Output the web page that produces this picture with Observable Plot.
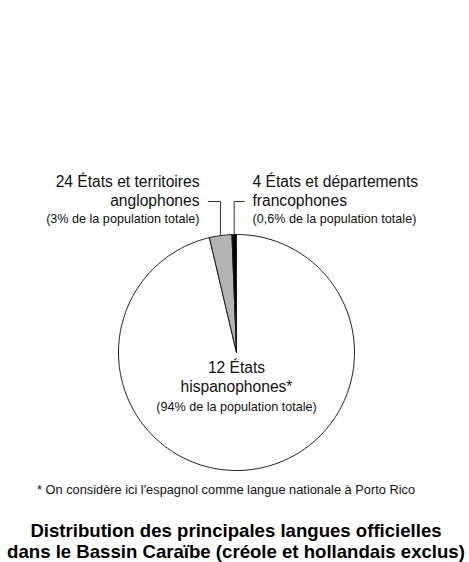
<!DOCTYPE html>
<html><head><meta charset="utf-8">
<script src="https://cdn.jsdelivr.net/npm/d3@7"></script>
<script src="https://cdn.jsdelivr.net/npm/@observablehq/plot@0.6"></script>
<style>body{margin:0;background:#fff} svg{display:block}</style>
</head><body><div id="chart"></div>
<script>
// ---- data ----
const categories = ["hispanophones", "anglophones", "francophones"];
const shares = [94, 3, 0.6];
const labelTitles = ["12 États", "24 États et territoires", "4 États et départements"];
const labelSubtitles = ["hispanophones*", "anglophones", "francophones"];
const labelNotes = ["(94% de la population totale)", "(3% de la population totale)", "(0,6% de la population totale)"];
const footnote = "* On considère ici l'espagnol comme langue nationale à Porto Rico";
const titleLines = ["Distribution des principales langues officielles", "dans le Bassin Caraïbe (créole et hollandais exclus)"];

// ---- layout / style ----
const W = 469, H = 562;
const cx = 236, cy = 352, r = 118;
const fills = ["#ffffff", "#b4b4b4", "#000000"];
const font = "'Liberation Sans', Arial, Helvetica, sans-serif";
const bigSize = 15.6, noteSize = 12.6;

const data = categories.map((name, i) => ({name, share: shares[i]}));
const arcs = d3.pie().sort(null).value(d => d.share)(data);

const pt = (a, rad) => ({x: cx + rad * Math.sin(a), y: cy - rad * Math.cos(a)});

// slice polygons
const slicePoints = [];
arcs.forEach(a => {
  const n = Math.max(2, Math.ceil((a.endAngle - a.startAngle) / (2 * Math.PI) * 360));
  slicePoints.push({name: a.data.name, x: cx, y: cy});
  for (let k = 0; k <= n; k++) {
    const ang = a.startAngle + (a.endAngle - a.startAngle) * k / n;
    slicePoints.push({name: a.data.name, ...pt(ang, r)});
  }
  slicePoints.push({name: a.data.name, x: cx, y: cy});
});

// leader lines for the two small slices
const elbowY = 201;
const leaderLen = {anglophones: -12, francophones: 10};
const leaders = [];
arcs.filter(a => a.data.name !== "hispanophones").forEach(a => {
  const m = (a.startAngle + a.endAngle) / 2;
  const p = pt(m, r + 1);
  leaders.push({name: a.data.name, x: p.x, y: p.y});
  leaders.push({name: a.data.name, x: p.x, y: elbowY});
  leaders.push({name: a.data.name, x: p.x + leaderLen[a.data.name], y: elbowY});
});

// label positions
const labelX = {hispanophones: cx, anglophones: 199, francophones: 252};
const labelY = {hispanophones: [367.5, 386.5, 406], anglophones: [181, 200, 218], francophones: [181, 200, 218]};
const anchors = {hispanophones: "middle", anglophones: "end", francophones: "start"};

const textMarks = [];
categories.forEach((c, i) => {
  const rows = [
    {x: labelX[c], y: labelY[c][0], t: labelTitles[i], s: bigSize},
    {x: labelX[c], y: labelY[c][1], t: labelSubtitles[i], s: bigSize},
    {x: labelX[c], y: labelY[c][2], t: labelNotes[i], s: noteSize}
  ];
  rows.forEach(row => textMarks.push(Plot.text([row], {x: "x", y: "y", text: "t", fontSize: row.s, textAnchor: anchors[c], fill: "#111", fontFamily: font})));
});

const chart = Plot.plot({
  width: W, height: H, margin: 0,
  x: {domain: [0, W], range: [0, W], axis: null},
  y: {domain: [0, H], range: [0, H], axis: null},
  color: {domain: categories, range: fills},
  style: {fontFamily: font, background: "#fff"},
  marks: [
    Plot.line(slicePoints, {x: "x", y: "y", z: "name", fill: "name", stroke: "#1a1a1a", strokeWidth: 1, strokeLinejoin: "round"}),
    Plot.line(leaders, {x: "x", y: "y", z: "name", stroke: "#333", strokeWidth: 1}),
    ...textMarks,
    Plot.text([footnote], {x: W / 2 - 9, y: 489, text: d => d, fontSize: 12.8, fill: "#111", fontFamily: font}),
    Plot.text(titleLines, {x: W / 2 + 1, y: (d, i) => 531 + i * 21, text: d => d, fontSize: 18.6, fontWeight: "bold", fill: "#000", fontFamily: font})
  ]
});
document.getElementById("chart").append(chart);
</script>
</body></html>
